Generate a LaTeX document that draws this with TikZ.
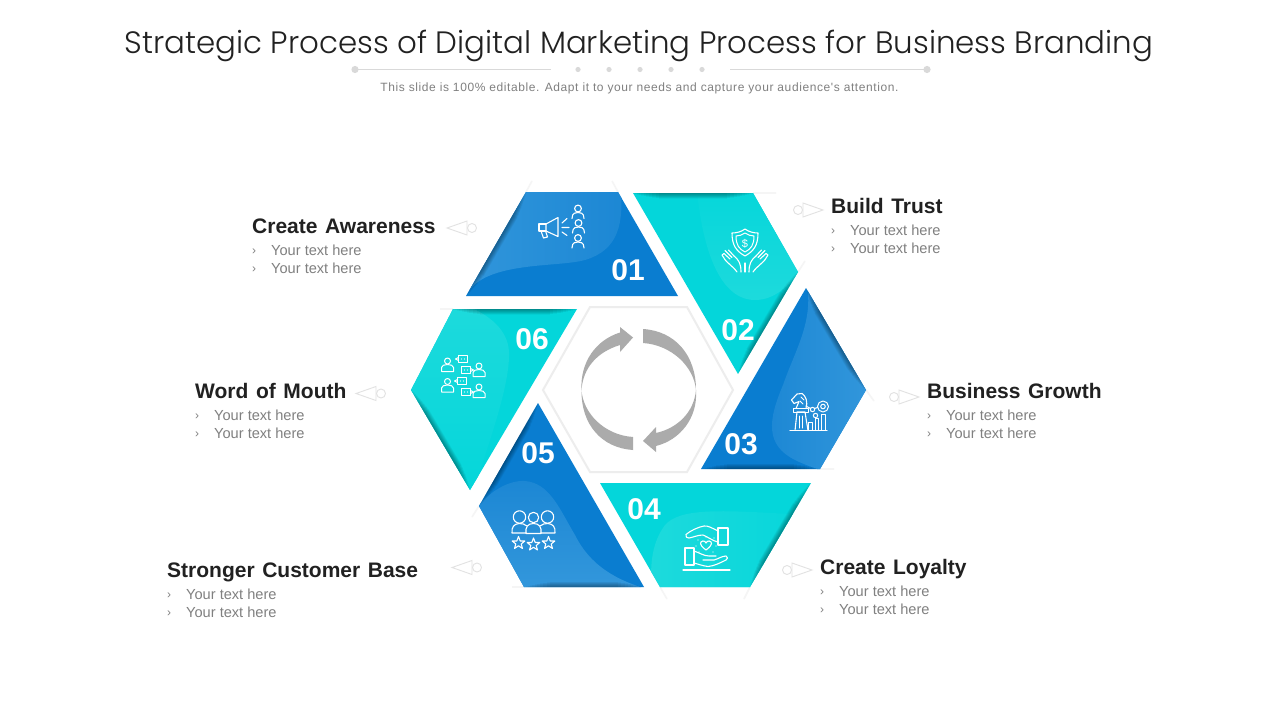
\documentclass[tikz,border=0pt]{standalone}
\usetikzlibrary{calc}
\usepackage{fontspec}
\setmainfont{Liberation Sans}
\newfontfamily\titlef{Poppins Light}
\newfontfamily\lblf[WordSpace=1.3]{Liberation Sans Bold}
\newfontfamily\subf[LetterSpace=5]{Liberation Sans}
\definecolor{bluebase}{HTML}{0A7DD0}
\definecolor{bluea}{HTML}{1C87D4}
\definecolor{blueb}{HTML}{3498DC}
\definecolor{tealbase}{HTML}{04D6DA}
\definecolor{teala}{HTML}{1DDADC}
\definecolor{arrowgray}{HTML}{ABABAB}
\definecolor{dotgray}{HTML}{D9D9D9}
\definecolor{ptr}{HTML}{E2E2E2}
\definecolor{streak}{HTML}{F5F5F5}
\tikzset{
 titletext/.style={anchor=base,text=black!87,font=\titlef\fontsize{30.9}{34}\selectfont},
 subtext/.style={anchor=base,text=black!50,font=\subf\fontsize{12}{14}\selectfont},
 headtext/.style={anchor=base west,inner sep=0pt,text=black!87,font=\lblf\fontsize{21}{24}\selectfont},
 bodytext/.style={anchor=base west,inner sep=0pt,text=black!50,font=\fontsize{14.6}{17}\selectfont},
 bullettext/.style={anchor=base west,inner sep=0pt,text=black!50,font=\fontsize{12}{14}\selectfont},
 numtext/.style={text=white,font=\bfseries\fontsize{30}{34}\selectfont},
 ptrline/.style={draw=ptr,line width=0.9pt},
 icon/.style={draw=white,line width=1.1pt,line join=round,line cap=round},
 iconthin/.style={draw=white,line width=1pt,line join=round,line cap=round},
}
\newcommand{\edgeshade}[2]{\foreach \w/\t in {1/0,2/.015,3/.03,4/.05,5/.07,6/.09,7/.11,8/.13,9/.16,10/.19,11/.22}{\draw[black,opacity=.035,line width=\w pt] ($#1!\t!#2$) -- ($#2!\t!#1$);}}
\newcommand{\labelblock}[4]{%
 \node[headtext] (#4h) at (#1,#2+7) {#3};
 \node[bullettext] (#4ba) at (#1,#2+28) {›};
 \node[bullettext] (#4bb) at (#1,#2+46) {›};
 \node[bodytext] (#4a) at (#1+19,#2+29) {Your text here};
 \node[bodytext] (#4b) at (#1+19,#2+47) {Your text here};
}
\newcommand{\ptrL}[2]{\draw[ptrline] (#1,#2) -- (#1+20,#2-7) -- (#1+20,#2+7) -- cycle;\draw[ptrline] (#1+25,#2) circle (4.5);}
\newcommand{\ptrR}[2]{\draw[ptrline] (#1,#2) -- (#1-20,#2-7) -- (#1-20,#2+7) -- cycle;\draw[ptrline] (#1-25,#2) circle (4.5);}
\newcommand{\personA}[2]{\draw[icon] (#1,#2) circle (3.4);\draw[icon] (#1-6,#2+10) .. controls (#1-6,#2+4) and (#1-2,#2+4) .. (#1,#2+4) .. controls (#1+2,#2+4) and (#1+6,#2+4) .. (#1+6,#2+10);}
\newcommand{\starA}[2]{\draw[icon] (#1,#2-6.5) -- (#1+1.7,#2-2) -- (#1+6.3,#2-2) -- (#1+2.7,#2+1) -- (#1+4,#2+5.5) -- (#1,#2+2.8) -- (#1-4,#2+5.5) -- (#1-2.7,#2+1) -- (#1-6.3,#2-2) -- (#1-1.7,#2-2) -- cycle;}
\newcommand{\chatP}[2]{\draw[iconthin] (#1,#2) circle (3);\draw[iconthin] (#1-6,#2+10.5) -- (#1-6,#2+6.5) .. controls (#1-6,#2+4.5) and (#1-3,#2+3.5) .. (#1,#2+3.5) .. controls (#1+3,#2+3.5) and (#1+6,#2+4.5) .. (#1+6,#2+6.5) -- (#1+6,#2+10.5) -- cycle;}
\newcommand{\chatB}[3]{\draw[iconthin] (#1-4.5,#2-3.5) rectangle (#1+4.5,#2+3.5);\draw[iconthin] (#1+#3*4.5,#2-1.5) -- (#1+#3*7.5,#2) -- (#1+#3*4.5,#2+1.5);\fill[white] (#1-1.5,#2) circle (.6) (#1+1.5,#2) circle (.6);}
\begin{document}
\begin{tikzpicture}[x=1pt,y=-1pt]
\useasboundingbox (0,0) rectangle (1280,720);
\fill[white] (0,0) rectangle (1280,720);
% header
\node[titletext] (title) at (639,53) {Strategic Process of Digital Marketing Process for Business Branding};
\node[subtext] (sub) at (639.5,91.5) {This slide is 100\% editable. Adapt it to your needs and capture your audience's attention.};
\coordinate (rl1) at (355,69.5);\coordinate (rl2) at (551,69.5);\coordinate (rr1) at (730,69.5);\coordinate (rr2) at (927,69.5);
\draw[dotgray,line width=.9pt] (rl1) -- (rl2) (rr1) -- (rr2);
\fill[dotgray] (rl1) circle (3.6) (rr2) circle (3.6);
\foreach \x in {578,609,640,671,702}{\fill[dotgray] (\x,69.5) circle (2.6);}
% faint streaks beyond the outer corners
\draw[streak,line width=1.6pt] (526,192) -- (532,181) (618,192) -- (612,181) (753,193) -- (776,193) (798,272) -- (805,261) (866,390) -- (874,401) (820,469) -- (834,469) (750,587) -- (744,599) (660,587) -- (667,599) (479,506) -- (472,517) (524,587) -- (512,587) (453,309) -- (440,309);
% segment 01
\begin{scope}
\clip (526,192) -- (618,192) -- (678,296) -- (466,296) -- cycle;
\fill[bluebase] (440,180) rectangle (700,300);
\shade[left color=blueb,right color=bluea] (620,180) .. controls (625,225) and (618,250) .. (585,260) .. controls (560,267) and (500,262) .. (474,285) -- (460,300) -- (440,180) -- cycle;
\edgeshade{(526,192)}{(466,296)}
\end{scope}
% segment 02
\begin{scope}
\clip (633,193) -- (753,193) -- (798,272) -- (738,374) -- cycle;
\fill[tealbase] (620,180) rectangle (810,380);
\shade[top color=tealbase,bottom color=teala] (696,180) .. controls (700,235) and (715,300) .. (755,300) .. controls (775,300) and (790,285) .. (802,268) -- (810,180) -- cycle;
\edgeshade{(633,193)}{(753,193)}
\edgeshade{(798,272)}{(738,374)}
\end{scope}
% segment 03
\begin{scope}
\clip (806,288) -- (866,390) -- (820,469) -- (701,469) -- cycle;
\fill[bluebase] (690,280) rectangle (880,480);
\shade[left color=bluea,right color=blueb] (806,280) .. controls (815,320) and (795,350) .. (783,385) .. controls (768,420) and (765,445) .. (795,460) .. controls (805,465) and (815,468) .. (825,472) -- (880,472) -- (880,280) -- cycle;
\edgeshade{(806,288)}{(866,390)}
\edgeshade{(701,469)}{(820,469)}
\end{scope}
% segment 04
\begin{scope}
\clip (600,483) -- (811,483) -- (750,587) -- (660,587) -- cycle;
\fill[tealbase] (590,475) rectangle (820,595);
\shade[left color=teala,right color=tealbase] (652,595) .. controls (650,570) and (650,545) .. (665,525) .. controls (680,508) and (720,510) .. (790,514) -- (820,514) -- (820,595) -- cycle;
\edgeshade{(811,483)}{(750,587)}
\end{scope}
% segment 05
\begin{scope}
\clip (538,403) -- (644,587) -- (524,587) -- (479,506) -- cycle;
\fill[bluebase] (470,395) rectangle (650,595);
\shade[top color=bluea,bottom color=blueb] (475,510) .. controls (490,490) and (510,480) .. (525,481) .. controls (550,483) and (560,510) .. (575,535) .. controls (590,565) and (615,580) .. (650,590) -- (650,595) -- (470,595) -- cycle;
\edgeshade{(538,403)}{(479,506)}
\edgeshade{(524,587)}{(644,587)}
\end{scope}
% segment 06
\begin{scope}
\clip (453,309) -- (577,309) -- (470,490) -- (411,390) -- cycle;
\fill[tealbase] (405,300) rectangle (585,495);
\shade[top color=teala,bottom color=tealbase] (465,305) .. controls (490,315) and (508,330) .. (509,352) .. controls (510,385) and (490,440) .. (472,495) -- (405,495) -- (405,305) -- cycle;
\edgeshade{(453,309)}{(577,309)}
\edgeshade{(411,390)}{(470,490)}
\end{scope}
% centre hexagon
\draw[draw=black!7,line width=2pt,fill=white] (590,307) -- (687,307) -- (733,390) -- (687,472) -- (590,472) -- (543,390) -- cycle;
% arrows
\fill[arrowgray] (581.5,390) .. controls (580,362) and (596,340) .. (620,332.5) -- (620,327) -- (633,337.5) -- (620,352) -- (620,345) .. controls (597,352) and (583,368) .. (581.5,390) -- cycle;
\fill[arrowgray] (643,329) .. controls (675,331) and (696,355) .. (696,390) .. controls (694,367) and (672,345) .. (643,343) -- cycle;
\fill[arrowgray] (696,390) .. controls (698,418) and (680,440) .. (656,446) -- (656,452) -- (643,441) -- (656,427) -- (656,433) .. controls (678,428) and (694,412) .. (696,390) -- cycle;
\fill[arrowgray] (633,450) .. controls (602,448) and (581,425) .. (581.5,390) .. controls (583,413) and (604,435) .. (633,437) -- cycle;
% numbers
\node[numtext] (n1) at (628,270) {01};
\node[numtext] (n2) at (738,330) {02};
\node[numtext] (n3) at (741,444) {03};
\node[numtext] (n4) at (644,509) {04};
\node[numtext] (n5) at (538,453) {05};
\node[numtext] (n6) at (532,339) {06};
% labels
\labelblock{252}{226}{Create Awareness}{la}
\labelblock{831}{206}{Build Trust}{lb}
\labelblock{927}{391}{Business Growth}{lc}
\labelblock{820}{567}{Create Loyalty}{ld}
\labelblock{195}{391}{Word of Mouth}{le}
\labelblock{167}{570}{Stronger Customer Base}{lf}
% pointers
\ptrL{447}{228}
\ptrR{823}{210}
\ptrR{919}{397}
\ptrR{812}{570}
\ptrL{356}{393.5}
\ptrL{452}{567.5}
% icon 1: megaphone and people
\draw[icon] (546,224) -- (558,217.5) -- (558,236.5) -- (546,231) -- cycle;
\draw[icon] (546,224) -- (539,224) -- (539,231) -- (546,231);
\draw[icon] (541,231) -- (543.5,238) -- (547.5,237) -- (545.5,231);
\draw[icon] (562,223) -- (567,218.5) (562,227.5) -- (569,227.5) (562,232) -- (567,235.5);
\personA{578}{208.5}\personA{578.5}{223}\personA{578}{238}
% icon 2: shield and hands
\draw[icon] (745,229) .. controls (749,232) and (754,233) .. (758,233) .. controls (758,245) and (754,251) .. (745,256) .. controls (736,251) and (732,245) .. (732,233) .. controls (736,233) and (741,232) .. (745,229) -- cycle;
\draw[iconthin] (745,233) .. controls (748,235) and (751,236) .. (754,236) .. controls (754,245) and (751,249) .. (745,252) .. controls (739,249) and (736,245) .. (736,236) .. controls (739,236) and (742,235) .. (745,233) -- cycle;
\node[text=white,font=\fontsize{11}{12}\selectfont,inner sep=0pt] (dollar) at (745,243.5) {\$};
\foreach \m/\s in {745/1,745/-1}{
\draw[icon] (\m-\s*8,272) .. controls (\m-\s*12,266) and (\m-\s*20,262) .. (\m-\s*23,255) (\m-\s*23,255) -- (\m-\s*21,253.5) -- (\m-\s*15,259) (\m-\s*20,250.5) -- (\m-\s*13,257.5) (\m-\s*16.5,250) -- (\m-\s*11,256) .. controls (\m-\s*6,260) and (\m-\s*4,264) .. (\m-\s*4,272);
}
\draw[icon] (745,263) -- (745,272);
% icon 3: chess knight and chart
\draw[icon] (790,430.5) -- (827,430.5);
\draw[icon] (795,430.5) -- (797,412) -- (805,412) -- (808,430.5);
\draw[iconthin] (793,408.5) rectangle (808,412);
\draw[icon] (796,408.5) -- (799,401.5) -- (794,403.5) -- (791.5,400) -- (797,394) -- (802,393.5) .. controls (806,396) and (808,402) .. (806,408.5);
\draw[iconthin] (801,397) -- (804,400) (800,401) -- (803,404);
\draw[iconthin] (799,416) -- (799,428) (802,416) -- (802,428);
\draw[iconthin] (808.5,422) rectangle (812,430.5) (815,418) rectangle (818.5,430.5) (821.5,414) rectangle (825,430.5);
\draw[iconthin] (823,406.5) circle (5.5) (823,406.5) circle (2.3) (812.5,409.5) circle (2.2) (815.5,415.5) circle (2.2);
\draw[iconthin] (806,406) -- (810.5,408.5) (814.5,408.5) -- (817.5,407.5);
% icon 4: hands and heart
\draw[icon] (718,528) rectangle (728,545);
\draw[icon] (718,531) .. controls (712,528) and (708,525.5) .. (704,526) .. controls (698,527) and (690,531) .. (686,534.5) .. controls (685,537) and (687,538) .. (689,538) .. controls (694,537) and (698,535) .. (703,535) .. controls (708,537) and (713,541) .. (718,542);
\draw[icon] (685,548) rectangle (694,565);
\draw[icon] (694,551) .. controls (700,553) and (704,556) .. (709,556) -- (716,556) (703,560) -- (714,560) .. controls (718,559) and (722,556) .. (726,556) .. controls (728,557) and (728,559) .. (726,560) .. controls (720,563) and (714,566) .. (708,566.5) .. controls (703,566) and (698,564) .. (694,563);
\draw[icon] (683,570) -- (730,570);
\draw[icon] (706,550) .. controls (702,547) and (700.5,545) .. (700.5,543.5) .. controls (700.5,540.5) and (705,540) .. (706,543) .. controls (707,540) and (711.5,540.5) .. (711.5,543.5) .. controls (711.5,545) and (710,547) .. (706,550) -- cycle;
\foreach \px/\py in {698/540,696/546,699/552,714/538,716/546,713/552,706/537}{\fill[white] (\px,\py) circle (.6);}
% icon 5: three people and stars
\draw[icon] (519.5,517) circle (6.2) (547.5,517) circle (6.2) (533.5,517.5) circle (5.2);
\draw[icon] (526,533) -- (512,533) .. controls (511.5,527) and (514,524) .. (519,523.5) .. controls (522,523.5) and (525,524) .. (527,526);
\draw[icon] (541,533) -- (555,533) .. controls (555.5,527) and (553,524) .. (548,523.5) .. controls (545,523.5) and (542,524) .. (540,526);
\draw[icon] (526,533.5) .. controls (525,527) and (528,523.5) .. (533.5,523.5) .. controls (539,523.5) and (542,527) .. (541,533.5) -- cycle;
\starA{518.5}{543}\starA{533.5}{544.5}\starA{548.5}{543}
% icon 6: people talking
\chatP{447.5}{361}\chatP{479}{366}\chatP{447.5}{381.5}\chatP{479}{387}
\chatB{463}{359}{-1}\chatB{466}{370}{1}\chatB{462}{381}{-1}\chatB{466}{392}{1}
\end{tikzpicture}
\end{document}
